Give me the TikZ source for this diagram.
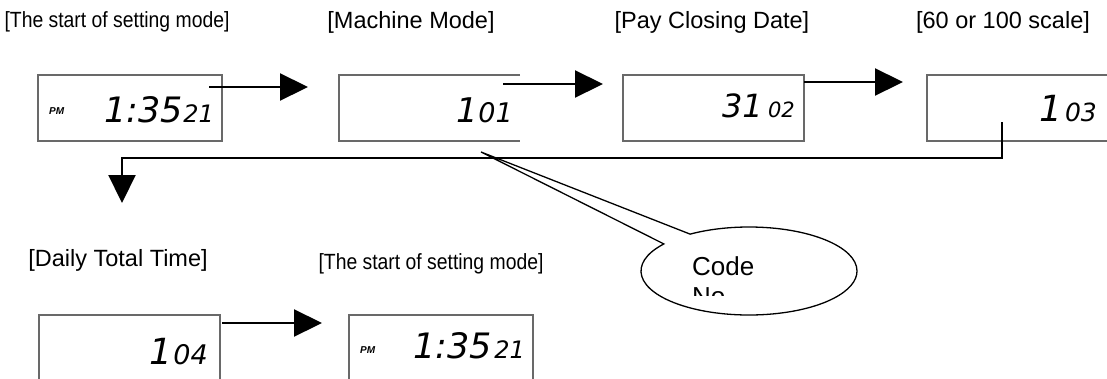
\documentclass[tikz,border=0pt]{standalone}
\usepackage{fontspec}
\setmainfont{Liberation Sans}
\newfontfamily\narrowfont[FakeStretch=0.88]{Liberation Sans}
\newfontfamily\lcdfont{DejaVu Sans}
\usepackage{tikz}
\usetikzlibrary{positioning,arrows.meta,shapes.callouts}
\definecolor{marco}{RGB}{105,105,105}
\newcommand{\lcd}[2]{{\lcdfont\itshape\fontsize{#1}{#1}\selectfont #2}}

\begin{document}
\begin{tikzpicture}[x=1pt, y=-1pt,
  pantalla/.style={draw=marco, line width=1.2pt, minimum height=66pt,
                   inner sep=0pt, outer sep=0pt},
  titulo/.style={font=\fontsize{23.5}{26}\selectfont, inner sep=0pt},
  titulonarrow/.style={font=\narrowfont\fontsize{22}{24}\selectfont, inner sep=0pt},
  cifra/.style={anchor=base east, inner sep=0pt},
  ampm/.style={anchor=base west, inner sep=0pt,
               font=\fontsize{10}{10}\selectfont\bfseries\itshape},
  flecha/.style={-{Triangle[length=28pt, width=27pt]}, line width=2.2pt}]
  \useasboundingbox (0,0) rectangle (1107,378);
  \clip (0,0) rectangle (1107,378);
  % displays
  \node[pantalla, minimum width=184pt] (disp1) at (130,108) {};
  \node[pantalla, minimum width=181pt, draw=none, right=117pt of disp1] (disp2) {};
  \node[pantalla, minimum width=181pt, right=103pt of disp2] (disp3) {};
  \node[pantalla, minimum width=203pt, right=123pt of disp3] (disp4) {};
  \node[pantalla, minimum width=181pt, minimum height=85pt] (disp5) at (129.5,357.5) {};
  \node[pantalla, minimum width=184pt, minimum height=85pt, right=129pt of disp5] (disp6) {};
  \draw[marco, line width=1.2pt] (disp2.north east) -- (disp2.north west)
    -- (disp2.south west) -- (disp2.south east);
  % titles
  \node[titulonarrow] (tit1) at (117,22) {[The start of setting mode]};
  \node[titulo] (tit2) at (411,22) {[Machine Mode]};
  \node[titulo] (tit3) at (712,22) {[Pay Closing Date]};
  \node[titulo] (tit4) at (1003,22) {[60 or 100 scale]};
  \node[titulo] (tit5) at (118,260) {[Daily Total Time]};
  \node[titulonarrow] (tit6) at (431,264) {[The start of setting mode]};
  % digits
  \node[ampm] (pm1) at (49,114) {PM};
  \node[cifra] (hora1) at (183,122) {\lcd{35}{1:35}};
  \node[cifra] (seg1) at (214,122) {\lcd{24}{21}};
  \node[cifra] (num2) at (478,122) {\lcd{34}{1}};
  \node[cifra] (cod2) at (513,122) {\lcd{27}{01}};
  \node[cifra] (num3) at (763,117) {\lcd{32}{31}};
  \node[cifra] (cod3) at (795,117) {\lcd{21}{02}};
  \node[cifra] (num4) at (1063,121) {\lcd{36}{1}};
  \node[cifra] (cod4) at (1097,121) {\lcd{25}{03}};
  \node[cifra] (num5) at (173,364) {\lcd{36}{1}};
  \node[cifra] (cod5) at (208,364) {\lcd{27}{04}};
  \node[ampm] (pm6) at (360,353) {PM};
  \node[cifra] (hora6) at (492,358) {\lcd{35}{1:35}};
  \node[cifra] (seg6) at (525,358) {\lcd{24}{21}};
  % arrows
  \coordinate (a1s) at (209,87);  \coordinate (a1e) at (308,87);
  \coordinate (a2s) at (503,84);  \coordinate (a2e) at (603,84);
  \coordinate (a3s) at (804,82);  \coordinate (a3e) at (903,82);
  \coordinate (a4s) at (1002,122); \coordinate (a4e) at (122,203);
  \coordinate (a5s) at (222,323); \coordinate (a5e) at (322,323);
  \draw[flecha] (a1s) -- (a1e);
  \draw[flecha] (a2s) -- (a2e);
  \draw[flecha] (a3s) -- (a3e);
  \draw[flecha] (a4s) |- (122,158) -- (a4e);
  \draw[flecha] (a5s) -- (a5e);
  % callout
  \node[ellipse callout, draw, line width=1.3pt, fill=white,
        minimum width=216pt, minimum height=88pt,
        callout absolute pointer={(481,152)}, callout pointer arc=19] (codeno) at (749,271) {};
  \begin{scope}
    \clip (680,240) rectangle (780,295);
    \node[anchor=north west, align=left, inner sep=0pt,
          font=\fontsize{26}{30}\selectfont] (codetxt) at (692,256) {Code\\No};
  \end{scope}
\end{tikzpicture}
\end{document}
